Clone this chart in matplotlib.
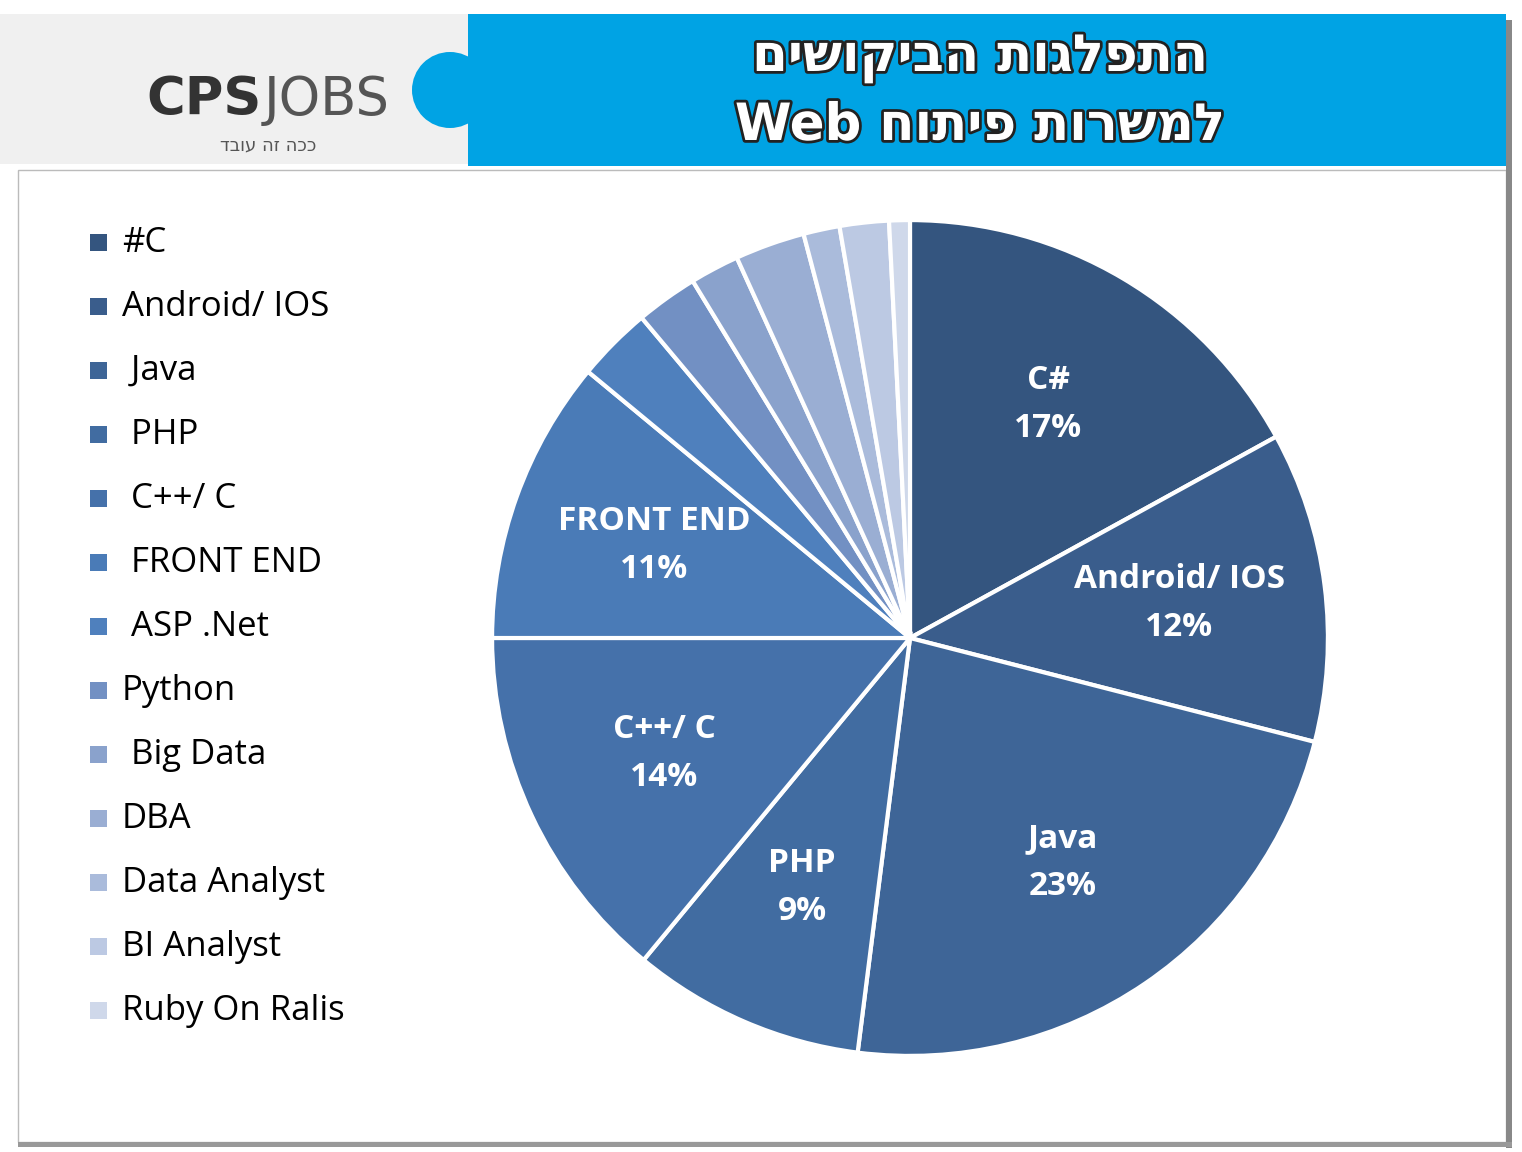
import matplotlib
matplotlib.use("Agg")
import matplotlib.pyplot as plt
from matplotlib.patches import Rectangle, Circle
import matplotlib.patheffects as pe
import numpy as np

labels = ["C#", "Android/ IOS", "Java", "PHP", "C++/ C", "FRONT END", "ASP .Net",
          "Python", "Big Data", "DBA", "Data Analyst", "BI Analyst", "Ruby On Ralis"]
legend_labels = ["#C", "Android/ IOS", " Java", " PHP", " C++/ C", " FRONT END", " ASP .Net",
                 "Python", " Big Data", "DBA", "Data Analyst", "BI Analyst", "Ruby On Ralis"]
values = [17, 12, 23, 9, 14, 11, 2.9, 2.4, 1.9, 2.7, 1.4, 1.9, 0.8]
shown = [True, True, True, True, True, True, False, False, False, False, False, False, False]
colors = ["#34557f", "#3a5d8c", "#3e6597", "#416ca1", "#4571aa", "#4a7bb7", "#4f80bd",
          "#7290c3", "#8aa2cc", "#9aaed3", "#aabbdb", "#bcc9e3", "#cfd8ea"]

fig = plt.figure(figsize=(15.22, 11.52), dpi=100)
bg = fig.add_axes([0, 0, 1, 1]); bg.set_xlim(0, 1522); bg.set_ylim(1152, 0); bg.axis("off")
bg.add_patch(Rectangle((18, 170), 1488, 972, facecolor="white", edgecolor="#bbbbbb", lw=1))
bg.add_patch(Rectangle((1506, 20), 6, 1128, facecolor="#888888", edgecolor="none"))
bg.add_patch(Rectangle((18, 1142), 1494, 5, facecolor="#999999", edgecolor="none"))
bg.add_patch(Rectangle((0, 14), 470, 150, facecolor="#f0f0f0", edgecolor="none"))
bg.add_patch(Rectangle((468, 14), 1038, 152, facecolor="#00a3e4", edgecolor="none"))
bg.add_patch(Circle((450, 90), 38, facecolor="#00a3e4", edgecolor="none"))
bg.text(262, 100, "CPS", fontsize=38, fontweight="bold", color="#333333", ha="right", va="center")
bg.text(264, 100, "JOBS", fontsize=38, color="#555555", ha="left", va="center")
bg.text(268, 145, "דבוע הז הככ", fontsize=13, color="#555555", ha="center", va="center")
for i, t in enumerate(["םישוקיבה תוגלפתה", "Web חותיפ תורשמל"]):
    bg.text(980, 58 + i * 68, t, fontsize=37, fontweight="bold", color="white", ha="center",
            va="center", path_effects=[pe.withStroke(linewidth=4, foreground="#222222")])

for i, (lab, c) in enumerate(zip(legend_labels, colors)):
    y = 243 + i * 64
    bg.add_patch(Rectangle((90, y - 9), 17, 17, facecolor=c, edgecolor="none"))
    bg.text(122, y, lab, fontsize=25, color="black", va="center", family="Open Sans")

ax = fig.add_axes([(910 - 420) / 1522, 1 - (638 + 420) / 1152, 840 / 1522, 840 / 1152])
wedges, _ = ax.pie(values, colors=colors, startangle=90, counterclock=False, radius=1,
                   wedgeprops=dict(edgecolor="white", linewidth=3))
for w, lab, v, s in zip(wedges, labels, values, shown):
    if not s:
        continue
    ang = np.deg2rad((w.theta1 + w.theta2) / 2)
    r = 0.65
    ax.text(r * np.cos(ang), r * np.sin(ang), f"{lab}\n{int(v)}%", ha="center", va="center",
            fontsize=24, fontweight="bold", color="white", linespacing=1.6, family="Open Sans")
ax.set_xlim(-1.005, 1.005); ax.set_ylim(-1.005, 1.005)
ax.set_aspect("equal")
fig.savefig("out.png", dpi=100)
